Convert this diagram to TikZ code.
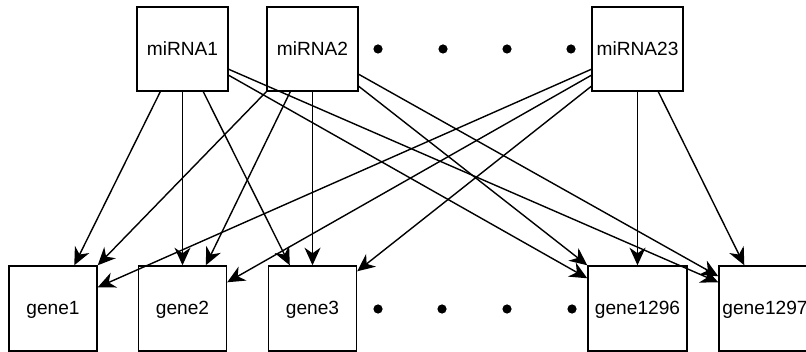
\documentclass[tikz,border=0pt]{standalone}
\usepackage{fontspec}
\setmainfont{Liberation Sans}
\usetikzlibrary{arrows.meta,calc}

\begin{document}
\begin{tikzpicture}[x=0.025cm,y=-0.025cm,
  mirbox/.style={draw,line width=1pt,inner sep=0pt,minimum width=2.275cm,minimum height=2.1cm,
    font=\fontsize{13.6}{16}\selectfont,text height=0.86em,text depth=0pt},
  genebox/.style={draw,line width=1pt,inner sep=0pt,minimum width=2.2cm,minimum height=2.125cm,
    font=\fontsize{13.6}{16}\selectfont,text height=0.86em,text depth=0pt},
  link/.style={line width=1pt,-{Stealth[length=4.4mm,width=4mm,inset=1.4mm]}}]
\useasboundingbox (0,0) rectangle (806,352);
% miRNA row
\node[mirbox] (m1) at (182.5,49) {miRNA1};
\node[mirbox] (m2) at (312.5,49) {miRNA2};
\node[mirbox] (m23) at (637.5,49) {miRNA23};
% gene row
\node[genebox] (g1) at (53,308.5) {gene1};
\node[genebox] (g2) at (182.5,308.5) {gene2};
\node[genebox] (g3) at (312.5,308.5) {gene3};
\node[genebox,minimum width=2.475cm] (g1296) at (637.5,308.5) {gene1296};
\node[genebox,minimum width=2.3cm] (g1297) at (765,308.5) {gene1297};
% dots between boxes
\foreach \x in {378,443,507,571} \fill (\x,49) circle (0.115cm);
\foreach \x in {378,442,507,572} \fill (\x,309) circle (0.115cm);
% miRNA1 targets
\draw[link] ($(m1.south west)+(24,0)$) -- ($(g1.north west)+(66,0)$);
\draw[link] (m1.south) -- (g2.north);
\draw[link] ($(m1.south west)+(67,0)$) -- ($(g3.north west)+(22,0)$);
\draw[link] ($(m1.north east)+(0,69)$) -- ($(g1296.north west)+(0,13)$);
\draw[link] ($(m1.north east)+(0,63)$) -- ($(g1297.north west)+(0,17)$);
% miRNA2 targets
\draw[link] (m2.south west) -- (g1.north east);
\draw[link] ($(m2.south west)+(24,0)$) -- ($(g2.north west)+(68,0)$);
\draw[link] (m2.south) -- (g3.north);
\draw[link] ($(m2.north east)+(0,80)$) -- (g1296.north west);
\draw[link] ($(m2.north east)+(0,68)$) -- ($(g1297.north west)+(0,11)$);
% miRNA23 targets
\draw[link] ($(m23.north west)+(0,63)$) -- ($(g1.north east)+(0,22)$);
\draw[link] ($(m23.north west)+(0,69)$) -- ($(g2.north east)+(0,17)$);
\draw[link] ($(m23.north west)+(0,80)$) -- ($(g3.north east)+(0,6)$);
\draw[link] (m23.south) -- (g1296.north);
\draw[link] ($(m23.south west)+(67,0)$) -- ($(g1297.north west)+(26,0)$);
\end{tikzpicture}
\end{document}
